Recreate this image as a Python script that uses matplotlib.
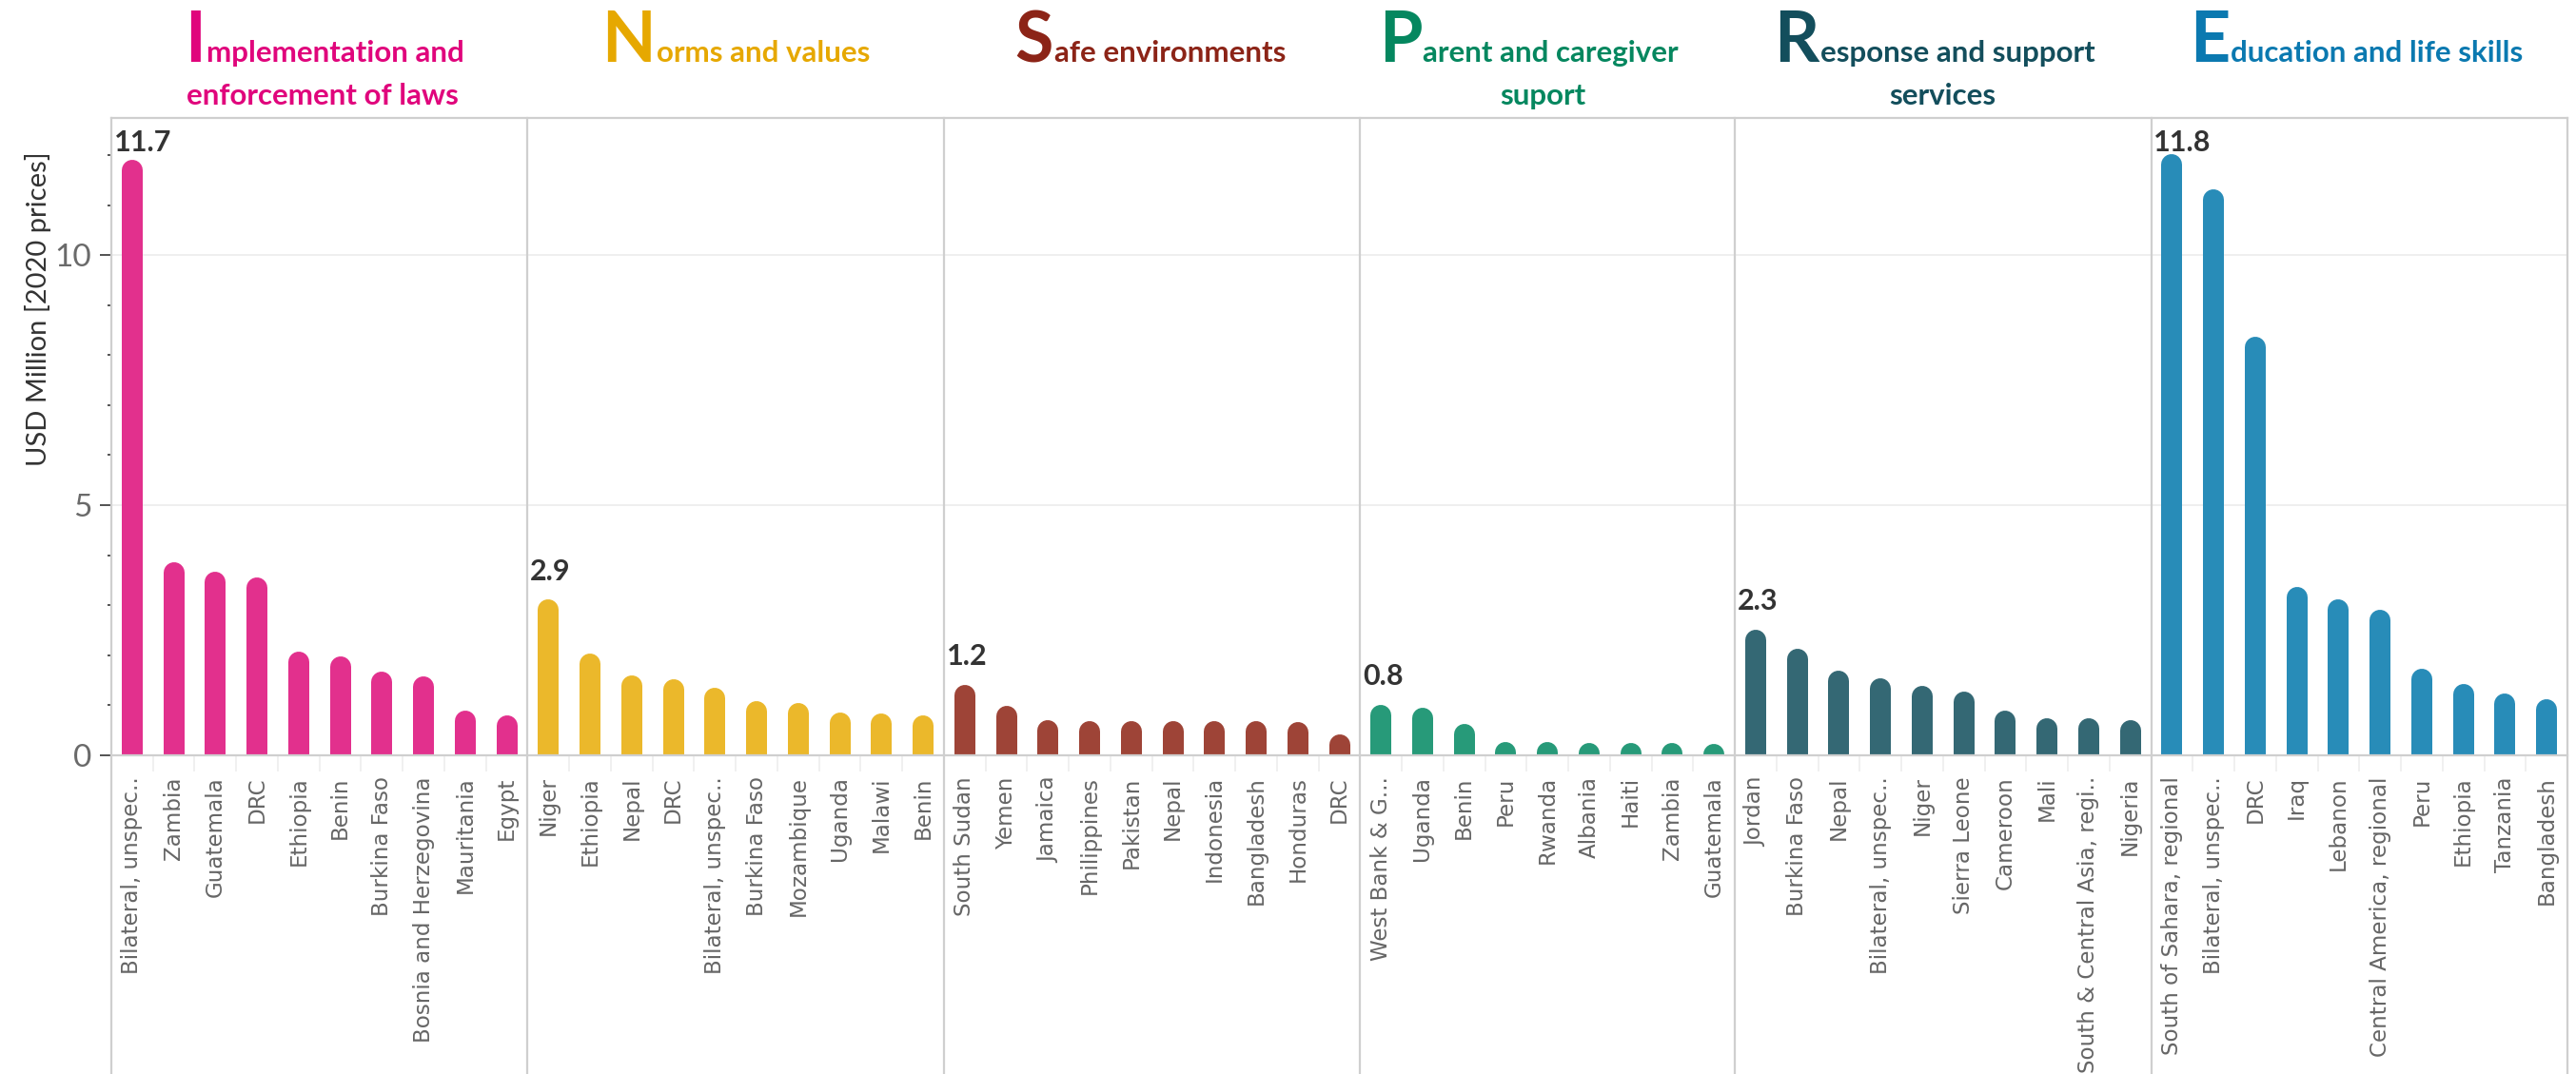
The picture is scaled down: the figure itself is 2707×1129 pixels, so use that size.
import matplotlib
matplotlib.use('Agg')
import matplotlib.pyplot as plt
from matplotlib.lines import Line2D
from matplotlib.ticker import MultipleLocator, FixedLocator
from matplotlib.transforms import offset_copy

# ---------------- data ----------------
impl_countries = ['Bilateral, unspec..', 'Zambia', 'Guatemala', 'DRC', 'Ethiopia', 'Benin',
                  'Burkina Faso', 'Bosnia and Herzegovina', 'Mauritania', 'Egypt']
impl_values = [11.7, 3.66, 3.46, 3.34, 1.86, 1.76, 1.46, 1.36, 0.68, 0.58]

norms_countries = ['Niger', 'Ethiopia', 'Nepal', 'DRC', 'Bilateral, unspec..', 'Burkina Faso',
                   'Mozambique', 'Uganda', 'Malawi', 'Benin']
norms_values = [2.9, 1.82, 1.38, 1.32, 1.15, 0.88, 0.83, 0.64, 0.63, 0.59]

safe_countries = ['South Sudan', 'Yemen', 'Jamaica', 'Philippines', 'Pakistan', 'Nepal',
                  'Indonesia', 'Bangladesh', 'Honduras', 'DRC']
safe_values = [1.2, 0.78, 0.5, 0.47, 0.47, 0.47, 0.47, 0.47, 0.45, 0.21]

parent_countries = ['West Bank & G...', 'Uganda', 'Benin', 'Peru', 'Rwanda', 'Albania',
                    'Haiti', 'Zambia', 'Guatemala']
parent_values = [0.8, 0.74, 0.42, 0.05, 0.05, 0.04, 0.04, 0.03, 0.02]

resp_countries = ['Jordan', 'Burkina Faso', 'Nepal', 'Bilateral, unspec..', 'Niger',
                  'Sierra Leone', 'Cameroon', 'Mali', 'South & Central Asia, regi..', 'Nigeria']
resp_values = [2.3, 1.93, 1.48, 1.34, 1.17, 1.06, 0.68, 0.54, 0.54, 0.5]

edu_countries = ['South of Sahara, regional', 'Bilateral, unspec..', 'DRC', 'Iraq', 'Lebanon',
                 'Central America, regional', 'Peru', 'Ethiopia', 'Tanzania', 'Bangladesh']
edu_values = [11.8, 11.1, 8.16, 3.15, 2.9, 2.7, 1.52, 1.22, 1.03, 0.92]

cat_first = ['I', 'N', 'S', 'P', 'R', 'E']
cat_line1 = ['mplementation and', 'orms and values', 'afe environments',
             'arent and caregiver', 'esponse and support', 'ducation and life skills']
cat_line2 = ['enforcement of laws', '', '', 'suport', 'services', '']

y_label = 'USD Million [2020 prices]'
y_ticks = [0, 5, 10]

# ---------------- style ----------------
bar_colors = ['#E2308D', '#EBB82B', '#9E4437', '#279A79', '#346874', '#288CB8']
title_colors = ['#E0057C', '#E6A800', '#8C2417', '#05875F', '#134E5C', '#0B79B0']
title_dx_px = [5, 0, -2, -20, -9, -3]
line2_dx_px = [-2, 0, 0, 15, 8, 0]

panels = [
    (impl_countries, impl_values),
    (norms_countries, norms_values),
    (safe_countries, safe_values),
    (parent_countries, parent_values),
    (resp_countries, resp_values),
    (edu_countries, edu_values),
]

W, H, DPI = 2707, 1129, 100
fig = plt.figure(figsize=(W / DPI, H / DPI), dpi=DPI)

left_px, right_px, top_px, zero_px = 117, 2698, 124, 794
YMAX = 12.74
gs = fig.add_gridspec(1, 6, width_ratios=[len(p[0]) for p in panels],
                      left=left_px / W, right=right_px / W,
                      top=1 - top_px / H, bottom=1 - zero_px / H, wspace=0)

bar_px = 22
bar_lw = bar_px * 72 / DPI
px_per_unit = (zero_px - top_px) / YMAX
r_units = (bar_px / 2) / px_per_unit

GRID = '#cfcfcf'
axes = []
for i, (names, vals) in enumerate(panels):
    ax = fig.add_subplot(gs[0, i], sharey=axes[0] if axes else None)
    axes.append(ax)
    x = list(range(len(names)))
    ax.vlines(x, 0, vals, colors=bar_colors[i], linewidth=bar_lw, capstyle='round', zorder=3)
    ax.set_xlim(-0.5, len(names) - 0.5)
    ax.set_ylim(0, YMAX)
    for s in ['top', 'right', 'left']:
        ax.spines[s].set_visible(False)
    ax.spines['bottom'].set_color(GRID)
    ax.spines['bottom'].set_linewidth(1.6)
    ax.spines['bottom'].set_zorder(4)
    for yv in y_ticks[1:]:
        ax.axhline(yv, color='#ececec', lw=1.2, zorder=0)
    ax.set_xticks(x)
    ax.set_xticklabels(names, rotation=90, fontsize=16.6, color='#666666',
                       family='DejaVu Sans', va='top', ha='center')
    ax.tick_params(axis='x', which='major', length=0, pad=16)
    ax.xaxis.set_minor_locator(FixedLocator([k + 0.5 for k in range(len(names) - 1)]))
    ax.tick_params(axis='x', which='minor', length=12, color='#eeeeee', width=1.2)
    # first bar value label, left-aligned at the panel's left edge
    v0 = vals[0]
    ylab = min(v0 + r_units + 0.3, YMAX - 0.76)
    trans = offset_copy(ax.transData, fig=fig, x=2, y=0, units='points')
    ax.text(-0.5, ylab, f'{v0:.1f}', ha='left', va='bottom', fontsize=22,
            fontweight='bold', family='Lato', color='#333333', zorder=5,
            transform=trans)
    if i == 0:
        ax.set_yticks(y_ticks)
        ax.set_yticklabels([str(t) for t in y_ticks], fontsize=24, color='#6a6a6a',
                           family='Lato')
        ax.yaxis.set_minor_locator(MultipleLocator(1))
        ax.tick_params(axis='y', which='major', length=9, width=1.3, color='#444444', pad=6)
        ax.tick_params(axis='y', which='minor', length=3, width=1.3, color='#444444')
    else:
        ax.tick_params(axis='y', which='both', left=False, labelleft=False)

# y axis title
fig.text(40 / W, 1 - 325 / H, y_label, rotation=90, fontsize=21, family='Lato',
         color='#333333', ha='center', va='center')

# frame lines: top, left, panel dividers, right (extend down to bottom of figure)
def vline_fig(xpx):
    fig.add_artist(Line2D([xpx / W, xpx / W], [0, 1 - top_px / H],
                          color=GRID, lw=1.6, zorder=10))

fig.add_artist(Line2D([left_px / W, right_px / W], [1 - top_px / H, 1 - top_px / H],
                      color=GRID, lw=1.6, zorder=10))
vline_fig(left_px)
for ax in axes[1:]:
    vline_fig(ax.get_position().x0 * W)
vline_fig(right_px)

# titles
fig.canvas.draw()
renderer = fig.canvas.get_renderer()
BIG, SMALL = 53, 22.5
base1 = 1 - 65 / H
base2 = 1 - 110 / H
for i, ax in enumerate(axes):
    pos = ax.get_position()
    cx = (pos.x0 + pos.x1) / 2 * W + title_dx_px[i]
    t1 = fig.text(0, base1, cat_first[i], fontsize=BIG, family='Lato', fontweight='bold',
                  color=title_colors[i], va='baseline', ha='left')
    t2 = fig.text(0, base1, cat_line1[i], fontsize=SMALL, family='Lato', fontweight='bold',
                  color=title_colors[i], va='baseline', ha='left')
    w1 = t1.get_window_extent(renderer).width
    w2 = t2.get_window_extent(renderer).width
    total = w1 + w2 + 1
    x0 = cx - total / 2
    t1.set_x(x0 / W)
    t2.set_x((x0 + w1 + 1) / W)
    if cat_line2[i]:
        lx = x0 + total / 2 + line2_dx_px[i]
        fig.text(lx / W, base2, cat_line2[i], fontsize=SMALL, family='Lato',
                 fontweight='bold', color=title_colors[i], va='baseline', ha='center')

fig.savefig('out.png', dpi=DPI)
